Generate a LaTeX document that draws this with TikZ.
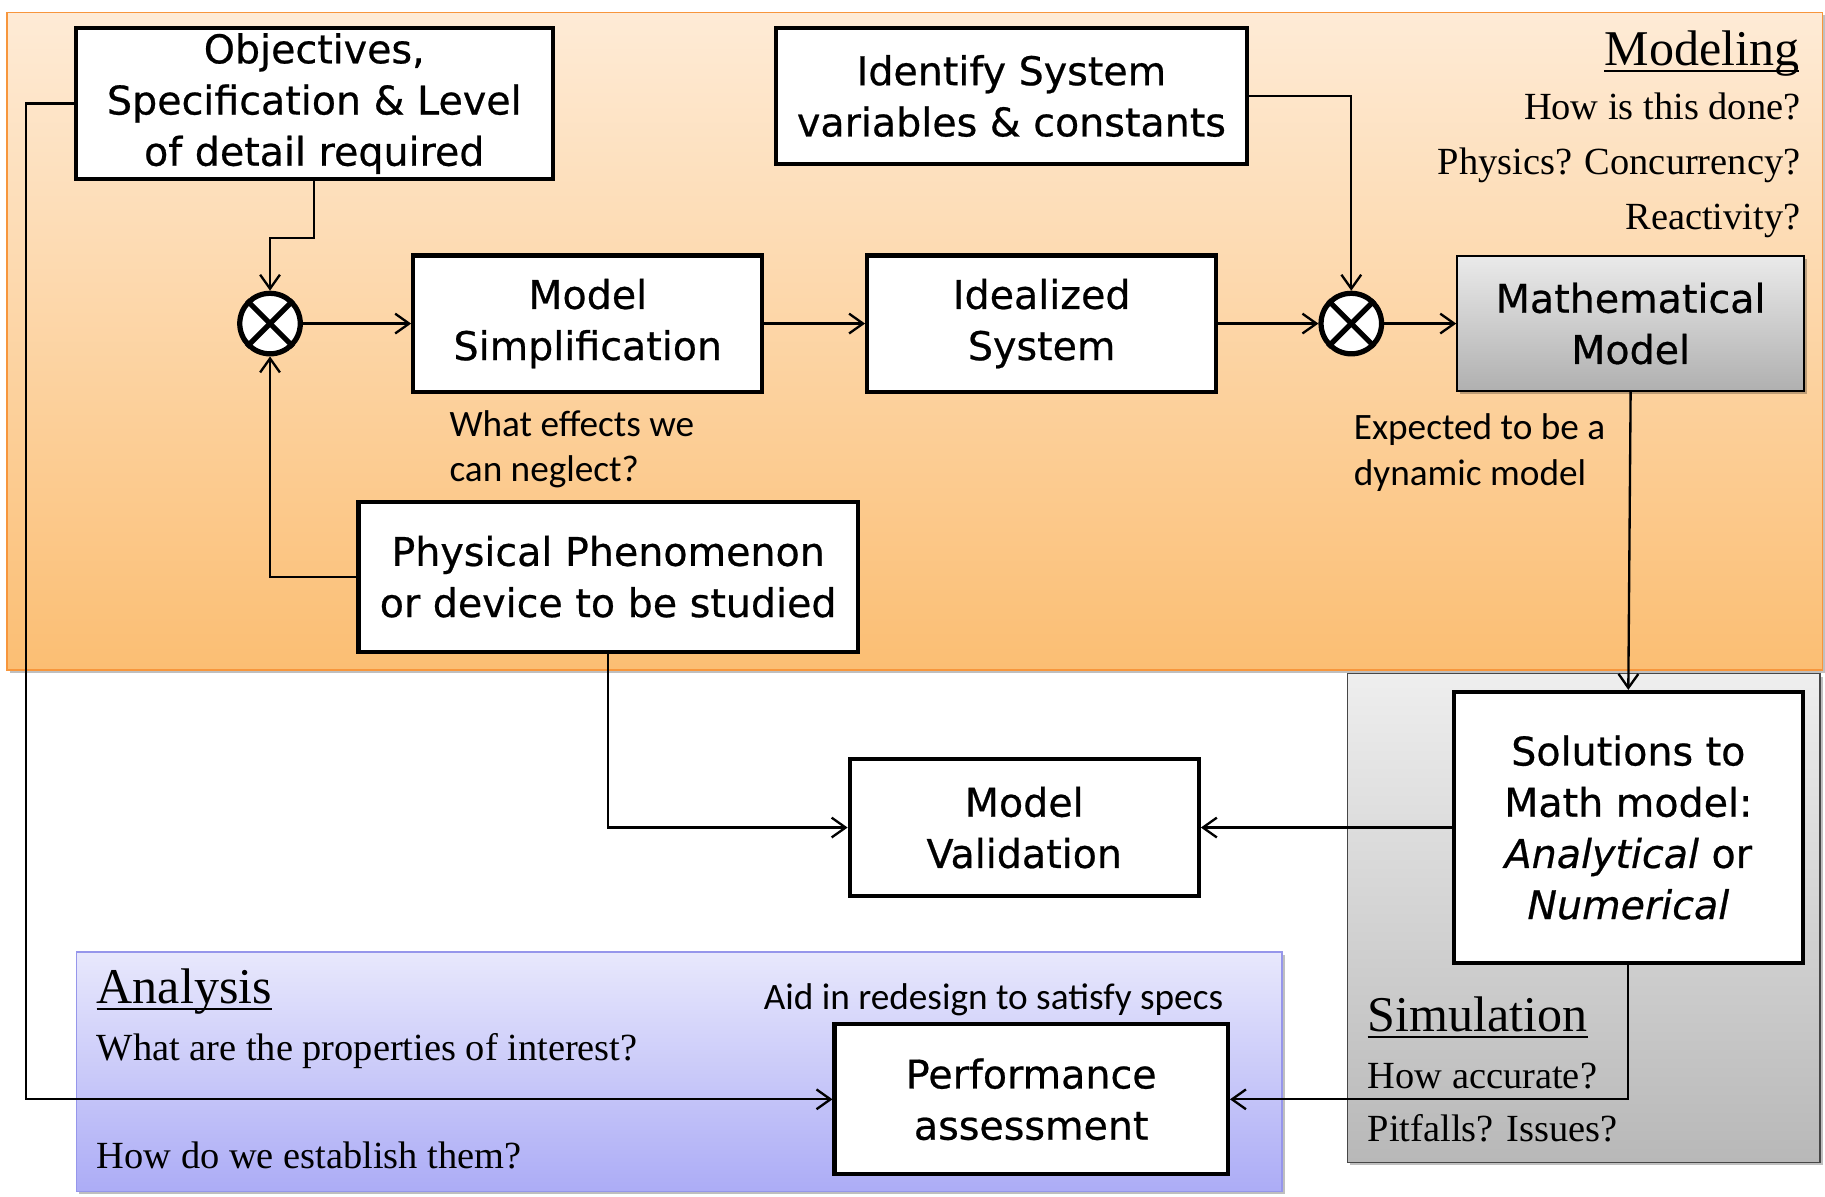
\documentclass[tikz,border=0pt]{standalone}
\usepackage{fontspec}
\setmainfont{Liberation Serif}
\newfontfamily\boxfont[FakeBold=0.6]{DejaVu Sans}
\newfontfamily\notefont{Carlito}
\usetikzlibrary{arrows.meta,shadows,calc}

\definecolor{modTop}{RGB}{254,235,214}
\definecolor{modBot}{RGB}{251,190,115}
\definecolor{modEdge}{RGB}{247,150,60}
\definecolor{simTop}{RGB}{238,238,238}
\definecolor{simBot}{RGB}{184,184,184}
\definecolor{simEdge}{RGB}{70,70,70}
\definecolor{anaTop}{RGB}{232,232,252}
\definecolor{anaBot}{RGB}{172,172,246}
\definecolor{anaEdge}{RGB}{150,150,235}
\definecolor{mathTop}{RGB}{234,234,234}
\definecolor{mathBot}{RGB}{176,176,176}

\begin{document}
\begin{tikzpicture}[x=1pt,y=-1pt,
  softshadow/.style={drop shadow={shadow xshift=2.5pt,shadow yshift=-2.5pt,opacity=.25,fill=black}},
  region/.style={draw, line width=1.5pt, inner sep=0pt, anchor=north west, softshadow},
  stepbox/.style={draw, line width=3.5pt, fill=white, inner sep=0pt, align=center,
     font=\boxfont\fontsize{34}{44}\selectfont},
  junction/.style={circle, draw, line width=4.5pt, fill=white, minimum size=52pt, inner sep=0pt},
  conn/.style={line width=2pt, -{Straight Barb[length=12pt,width=17pt,line width=2pt]}},
  heading/.style={inner sep=0pt, font=\fontsize{43}{50}\selectfont},
  question/.style={inner sep=0pt, font=\fontsize{33}{40}\selectfont},
  note/.style={inner sep=0pt, font=\notefont\fontsize{32}{39}\selectfont},
  uline/.style={line width=2pt}]

\useasboundingbox (0,0) rectangle (1568,1028);

% shaded areas: modeling, simulation, analysis
\node[region, draw=modEdge, top color=modTop, bottom color=modBot,
      minimum width=1560pt, minimum height=565pt] (modeling) at (5,10) {};
\node[region, draw=simEdge, top color=simTop, bottom color=simBot,
      minimum width=406pt, minimum height=420pt] (simulation) at (1157,578) {};
\node[region, draw=anaEdge, top color=anaTop, bottom color=anaBot,
      minimum width=1036pt, minimum height=206pt] (analysis) at (65,817) {};

% process boxes
\node[stepbox, minimum width=410pt, minimum height=130pt] (obj) at (270,89)
  {Objectives,\\Specification \& Level\\of detail required};
\node[stepbox, minimum width=404pt, minimum height=117pt] (ident) at (869,82.5)
  {Identify System\\variables \& constants};
\node[stepbox, minimum width=300pt, minimum height=117pt] (simp) at (505,278)
  {Model\\Simplification};
\node[stepbox, minimum width=300pt, minimum height=117pt] (ideal) at (895,278)
  {Idealized\\System};
\node[stepbox, line width=1.7pt, top color=mathTop, bottom color=mathBot, softshadow,
      minimum width=298pt, minimum height=116pt] (math) at (1401,278)
  {Mathematical\\Model};
\node[stepbox, minimum width=429pt, minimum height=129pt] (phys) at (522.5,495.5)
  {Physical Phenomenon\\or device to be studied};
\node[stepbox, minimum width=300pt, minimum height=117pt] (valid) at (880,711)
  {Model\\Validation};
\node[stepbox, minimum width=300pt, minimum height=233pt] (sol) at (1399,711)
  {Solutions to\\Math model:\\\textit{Analytical} or\\\textit{Numerical}};
\node[stepbox, minimum width=338pt, minimum height=129pt] (perf) at (886,944.5)
  {Performance\\assessment};

% multiplying junctions
\node[junction] (c1) at (232,278) {};
\node[junction] (c2) at (1161,278) {};
\foreach \j in {c1,c2}{
  \draw[line width=4.5pt] (\j.north east) -- (\j.south west);
  \draw[line width=4.5pt] (\j.north west) -- (\j.south east);
}

% connectors
\draw[conn] (obj.west) -- ++(-41,0) |- (perf.west);
\draw[conn] (obj.south) -- ++(0,49) -| (c1.north);
\draw[conn] (phys.west) -| (c1.south);
\draw[conn] (c1.east) -- (simp.west);
\draw[conn] (simp.east) -- (ideal.west);
\draw[conn] (ideal.east) -- (c2.west);
\draw[conn] (ident.east) -| (c2.north);
\draw[conn] (c2.east) -- (math.west);
\draw[conn] (math.south) -- (sol.north);
\draw[conn] (sol.west) -- (valid.east);
\draw[conn] (phys.south) |- (valid.west);
\draw[conn] (sol.south) |- (perf.east);

% annotations
\node[note, anchor=base west] (neg1) at (386,375) {What effects we};
\node[note, anchor=base west] (neg2) at (386,414) {can neglect?};
\node[note, anchor=base west] (dyn1) at (1163,378) {Expected to be a};
\node[note, anchor=base west] (dyn2) at (1163,417) {dynamic model};
\node[note, anchor=base west] (aid) at (656,867) {Aid in redesign to satisfy specs};

% area titles and questions
\node[heading, anchor=base east] (modt) at (1546,56) {Modeling};
\draw[uline] ([yshift=-5pt]modt.base west) -- ([yshift=-5pt]modt.base east);
\node[question, anchor=base east] (mq1) at (1547,103) {How is this done?};
\node[question, anchor=base east] (mq2) at (1547,150) {Physics? Concurrency?};
\node[question, anchor=base east] (mq3) at (1547,197) {Reactivity?};

\node[heading, anchor=base west] (anat) at (83,862) {Analysis};
\draw[uline] ([yshift=-5pt]anat.base west) -- ([yshift=-5pt]anat.base east);
\node[question, anchor=base west] (aq1) at (83,911) {What are the properties of interest?};
\node[question, anchor=base west] (aq2) at (83,1004) {How do we establish them?};

\node[heading, anchor=base west] (simt) at (1175,886) {Simulation};
\draw[uline] ([yshift=-5pt]simt.base west) -- ([yshift=-5pt]simt.base east);
\node[question, anchor=base west] (sq1) at (1175,935) {How accurate?};
\node[question, anchor=base west] (sq2) at (1175,981) {Pitfalls? Issues?};

\end{tikzpicture}
\end{document}
